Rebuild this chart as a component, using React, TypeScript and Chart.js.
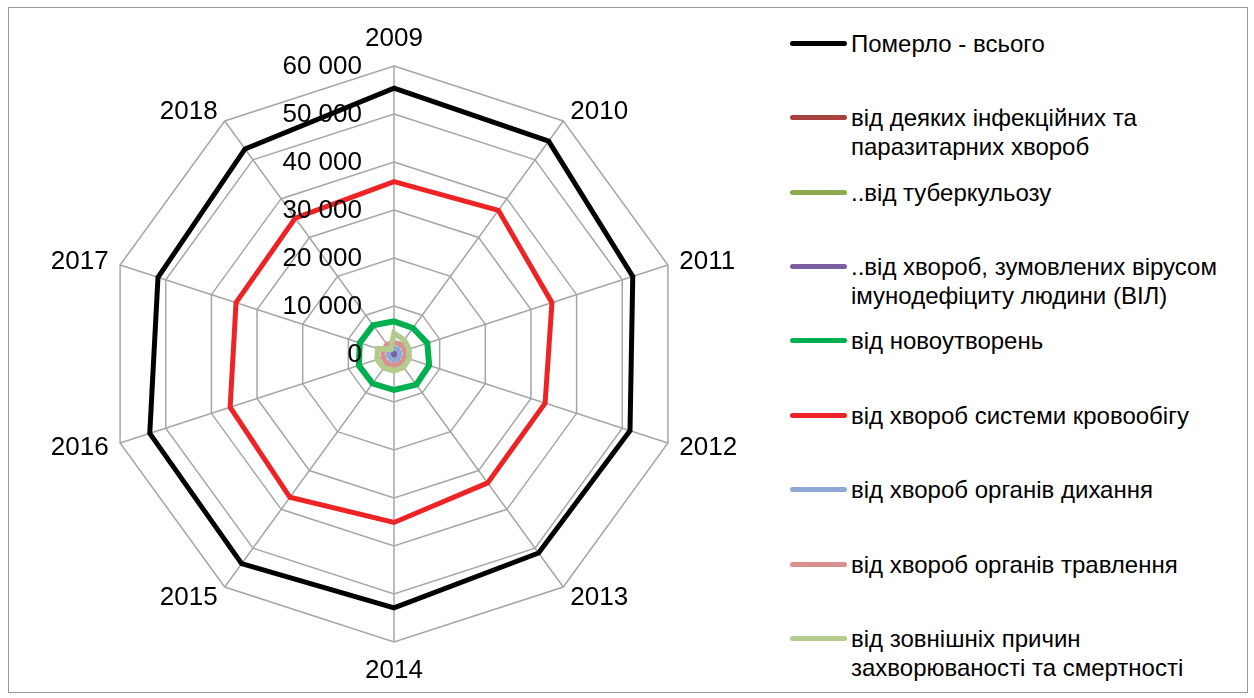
import React, { useEffect, useRef } from "react";
import { Chart, registerables } from "chart.js";

Chart.register(...registerables);

const years = ["2009", "2010", "2011", "2012", "2013", "2014", "2015", "2016", "2017", "2018"];

const totalDeaths = [55400, 54800, 52300, 51700, 51250, 52900, 54000, 53500, 51700, 52800];
const infectious = [1000, 950, 900, 850, 800, 750, 750, 700, 700, 750];
const tuberculosis = [700, 650, 600, 550, 500, 450, 450, 400, 400, 400];
const hiv = [300, 300, 300, 300, 300, 300, 300, 250, 250, 250];
const neoplasms = [6800, 6700, 7300, 7700, 7900, 7500, 7600, 7700, 7500, 7400];
const circulatory = [35900, 37000, 34600, 33100, 33200, 35100, 36900, 35900, 34600, 35000];
const respiratory = [1200, 1300, 1200, 1200, 1300, 1300, 1200, 1200, 1200, 1200];
const digestive = [2400, 2500, 2400, 2400, 2400, 2400, 2500, 2400, 2400, 2500];
const external = [4300, 3600, 3300, 3300, 3400, 3500, 3600, 3700, 3600, 1200];

const tickValues = [0, 10000, 20000, 30000, 40000, 50000, 60000];

const seriesNames = [
  "Померло - всього",
  "від деяких інфекційних та\nпаразитарних хвороб",
  "..від туберкульозу",
  "..від хвороб, зумовлених вірусом\nімунодефіциту людини (ВІЛ)",
  "від новоутворень",
  "від хвороб системи кровообігу",
  "від хвороб органів дихання",
  "від хвороб органів травлення",
  "від зовнішніх причин\nзахворюваності та смертності",
];
const seriesValues = [totalDeaths, infectious, tuberculosis, hiv, neoplasms, circulatory, respiratory, digestive, external];
const seriesColors = ["#000000", "#A9423F", "#8DAA4F", "#7C5FA0", "#00B050", "#EE2326", "#8FA8D6", "#D7908E", "#B3CB8C"];
const seriesWidths = [5, 5, 5, 5, 6, 5, 5, 5, 5.5];

const FONT = '"Liberation Sans", Arial, Helvetica, sans-serif';
const CENTER_X = 394;
const CENTER_Y = 354;
const RADIUS = 288;

const fmt = (v: number) => String(v).replace(/\B(?=(\d{3})+(?!\d))/g, " ");

const geometryPlugin = {
  id: "radarGeometry",
  afterLayout(chart: any) {
    const s = chart.scales.r;
    s.xCenter = CENTER_X;
    s.yCenter = CENTER_Y;
    s.drawingArea = RADIUS;
  },
  afterDatasetsDraw(chart: any) {
    const s = chart.scales.r;
    const ctx = chart.ctx as CanvasRenderingContext2D;
    ctx.save();
    ctx.fillStyle = "#000";
    ctx.font = `26px ${FONT}`;
    ctx.textBaseline = "middle";
    ctx.textAlign = "right";
    tickValues.forEach((v) => {
      const d = s.getDistanceFromCenterForValue(v);
      ctx.fillText(fmt(v), s.xCenter - 32, s.yCenter - d + 1);
    });
    years.forEach((y, i) => {
      const base = s.getPointPosition(i, s.drawingArea);
      const c = Math.cos(base.angle);
      let align: CanvasTextAlign = "center";
      let dist = s.drawingArea + 28;
      if (Math.abs(c) > 0.05) {
        align = c > 0 ? "left" : "right";
        dist = s.drawingArea + 12;
      }
      const p = s.getPointPosition(i, dist);
      ctx.textAlign = align;
      ctx.fillText(y, p.x, p.y + 1);
    });
    ctx.restore();
  },
};

export default function App() {
  const canvasRef = useRef<HTMLCanvasElement | null>(null);

  useEffect(() => {
    if (!canvasRef.current) return;
    const n = seriesNames.length;
    const chart = new Chart(canvasRef.current, {
      type: "radar",
      data: {
        labels: years,
        datasets: seriesNames.map((name, i) => ({
          label: name,
          data: seriesValues[i],
          borderColor: seriesColors[i],
          backgroundColor: seriesColors[i],
          borderWidth: seriesWidths[i],
          pointRadius: 0,
          pointHoverRadius: 0,
          fill: false,
          tension: 0,
          borderJoinStyle: "miter" as const,
          order: n - 1 - i,
        })),
      },
      options: {
        responsive: false,
        animation: false,
        devicePixelRatio: 1,
        layout: { padding: 0 },
        plugins: {
          legend: { display: false },
          tooltip: { enabled: false },
          title: { display: false },
        },
        scales: {
          r: {
            min: 0,
            max: 60000,
            ticks: { display: false, stepSize: 10000 },
            pointLabels: { display: false },
            grid: { color: "#A6A6A6", lineWidth: 1.5 },
            angleLines: { color: "#A6A6A6", lineWidth: 1.5 },
          },
        },
      },
      plugins: [geometryPlugin],
    });
    return () => chart.destroy();
  }, []);

  return (
    <div
      style={{
        position: "fixed",
        left: 0,
        top: 0,
        width: 1254,
        height: 698,
        background: "#fff",
        overflow: "hidden",
        fontFamily: FONT,
      }}
    >
      <div
        style={{
          position: "absolute",
          left: 8,
          top: 7,
          width: 1238,
          height: 684,
          border: "1.5px solid #9A9A9A",
        }}
      />
      <canvas
        ref={canvasRef}
        width={760}
        height={698}
        style={{ position: "absolute", left: 0, top: 0, width: 760, height: 698 }}
      />
      {seriesNames.map((name, i) => {
        const y = 43.3 + 74.4 * i;
        return (
          <React.Fragment key={i}>
            <div
              style={{
                position: "absolute",
                left: 790,
                top: y - 2.5,
                width: 57,
                height: 5,
                borderRadius: 2.5,
                background: seriesColors[i],
              }}
            />
            <div
              style={{
                position: "absolute",
                left: 851,
                top: y - 14.5,
                font: `24px ${FONT}`,
                lineHeight: "29px",
                whiteSpace: "pre",
                color: "#000",
              }}
            >
              {name}
            </div>
          </React.Fragment>
        );
      })}
    </div>
  );
}
